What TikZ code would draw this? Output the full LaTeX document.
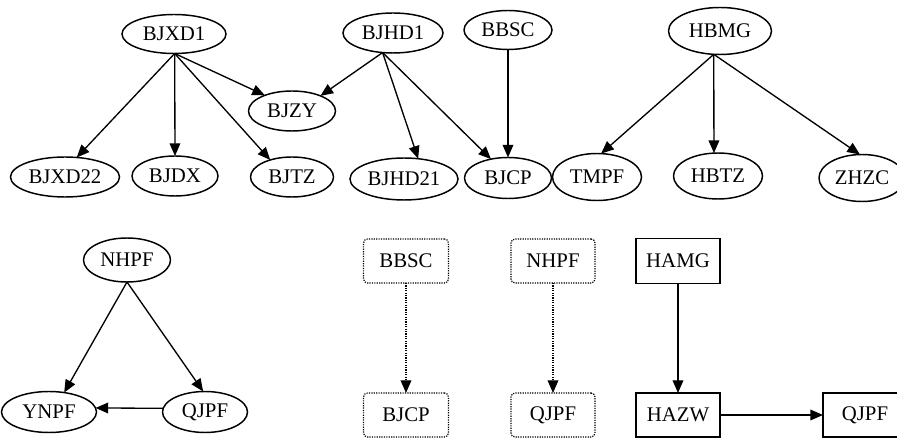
\documentclass[tikz,border=0pt]{standalone}
\usepackage{fontspec}
\setmainfont{Liberation Serif}
\usetikzlibrary{shapes.geometric,arrows.meta}
\begin{document}
\begin{tikzpicture}[x=0.75pt,y=-0.75pt,
  sz/.style 2 args={minimum width=#1*0.75pt,minimum height=#2*0.75pt},
  base/.style={inner sep=0pt,outer sep=0pt,font=\fontsize{15.6}{18}\selectfont,line width=1.1pt,draw},
  el/.style={base,ellipse},
  bx/.style={base,rectangle},
  dbx/.style={base,rectangle,rounded corners=3pt,dash pattern=on 0.9pt off 0.9pt,line width=0.9pt},
  arr/.style={line width=1pt,-{Triangle[length=9.5pt,width=8pt]}},
  darr/.style={arr,dash pattern=on 0.9pt off 0.9pt}]
\useasboundingbox (0,0) rectangle (897,438);
% top row
\node[el,sz={104}{39}] (BJXD1) at (174,34) {BJXD1};
\node[el,sz={100}{40}] (BJHD1) at (393,33) {BJHD1};
\node[el,sz={88}{39}] (BBSC) at (508,30) {BBSC};
\node[el,sz={103}{47}] (HBMG) at (720,31) {HBMG};
\node[el,sz={87}{40}] (BJZY) at (292,111) {BJZY};
\node[el,sz={109}{40}] (BJXD22) at (65,177) {BJXD22};
\node[el,sz={86}{40}] (BJDX) at (175,176) {BJDX};
\node[el,sz={83}{40}] (BJTZ) at (292,177) {BJTZ};
\node[el,sz={108}{42}] (BJHD21) at (404,179) {BJHD21};
\node[el,sz={87}{41}] (BJCP) at (508,178) {BJCP};
\node[el,sz={89}{47}] (TMPF) at (597,177) {TMPF};
\node[el,sz={89}{46}] (HBTZ) at (718,176) {HBTZ};
\node[el,sz={86}{47}] (ZHZC) at (862,178) {ZHZC};
\draw[arr] (BJXD1.-88) -- (BJXD22.59);
\draw[arr] (BJXD1.-88) -- (BJDX.north);
\draw[arr] (BJXD1.-88) -- (BJTZ.142);
\draw[arr] (BJXD1.-88) -- (BJZY.150);
\draw[arr] (BJHD1.-118) -- (BJZY.28);
\draw[arr] (BJHD1.-118) -- (BJHD21.55);
\draw[arr] (BJHD1.-118) -- (BJCP.132);
\draw[arr] (BBSC.south) -- (BJCP.north);
\draw[arr] (HBMG.-105) -- (TMPF.80);
\draw[arr] (HBMG.-105) -- (HBTZ.100);
\draw[arr] (HBMG.-105) -- (ZHZC.95);
% bottom left triangle
\node[el,sz={87}{44}] (NHPF) at (127,260) {NHPF};
\node[el,sz={95}{41}] (YNPF) at (49,412) {YNPF};
\node[el,sz={85}{41}] (QJPFa) at (205,412) {QJPF};
\draw[arr] (NHPF.south) -- (YNPF.52);
\draw[arr] (NHPF.south) -- (QJPFa.95);
\draw[arr] (QJPFa.175) -- (YNPF.5);
% dotted boxes
\node[dbx,sz={85}{44}] (BBSCb) at (406,261) {BBSC};
\node[dbx,sz={85}{44}] (BJCPb) at (406,415) {BJCP};
\node[dbx,sz={84}{44}] (NHPFb) at (553,261) {NHPF};
\node[dbx,sz={84}{44}] (QJPFb) at (553,415) {QJPF};
\draw[darr] (BBSCb) -- (BJCPb);
\draw[darr] (NHPFb) -- (QJPFb);
% solid boxes
\node[bx,sz={84}{45}] (HAMG) at (678,261) {HAMG};
\node[bx,sz={84}{44}] (HAZW) at (678,415) {HAZW};
\node[bx,sz={84}{44}] (QJPFc) at (865,415) {QJPF};
\draw[arr] (HAMG) -- (HAZW);
\draw[arr] (HAZW) -- (QJPFc);
\end{tikzpicture}
\end{document}
